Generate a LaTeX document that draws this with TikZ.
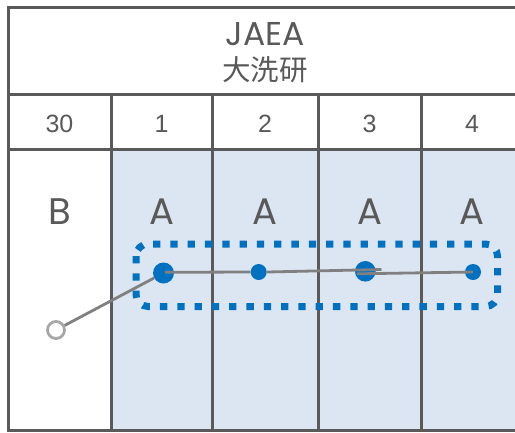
\documentclass[tikz,border=0pt]{standalone}
\usepackage{fontspec}
\setmainfont{Liberation Sans}
\newfontfamily\geo{Poppins}
\newfontfamily\cjk{Noto Sans CJK JP}
\definecolor{gridc}{HTML}{5A5A5A}
\definecolor{fillb}{HTML}{DCE6F2}
\definecolor{dotb}{HTML}{0070C0}
\definecolor{linec}{HTML}{808080}
\definecolor{openc}{HTML}{A6A6A6}
\definecolor{txtc}{HTML}{595959}
\tikzset{
  gridline/.style={draw=gridc, line width=3pt},
  numtxt/.style={text=txtc, font=\fontsize{25}{27}\selectfont, inner sep=0pt},
  lettxt/.style={text=txtc, font=\geo\fontsize{37}{39}\selectfont, inner sep=0pt},
  titletxt/.style={text=txtc, inner sep=0pt},
  bigdot/.style={circle, fill=dotb, inner sep=0pt, minimum size=#1},
  opendot/.style={circle, draw=openc, fill=white, line width=2.8pt, inner sep=0pt, minimum size=17pt},
  conn/.style={draw=linec, line width=2.8pt},
  groupbox/.style={draw=dotb, line width=7pt, dash pattern=on 7.3pt off 10pt, rounded corners=12pt}
}
\begin{document}
\begin{tikzpicture}[x=1pt,y=-1pt]
\useasboundingbox (0,0) rectangle (515,432);
\fill[white] (0,0) rectangle (515,432);
\fill[fillb] (111,149) rectangle (515,430);
% grid
\draw[gridline] (516,7) -- (8,7) -- (8,430) -- (516,430);
\draw[gridline] (8,94) -- (516,94);
\draw[gridline] (8,149) -- (516,149);
\foreach \x in {111,212,318,421} \draw[gridline] (\x,94) -- (\x,430);
% header
\node[titletxt, font=\geo\fontsize{33}{35}\selectfont] (t1) at (265,34) {JAEA};
\node[titletxt, font=\cjk\fontsize{28.5}{30}\selectfont] (t2) at (265,70) {大洗研};
% numbers
\node[numtxt] (n0) at (59.5,124) {30};
\node[numtxt] (n1) at (161.5,124) {1};
\node[numtxt] (n2) at (265,124) {2};
\node[numtxt] (n3) at (369.5,124) {3};
\node[numtxt] (n4) at (472,124) {4};
% letters
\node[lettxt] (l0) at (60,212) {B};
\node[lettxt] (l1) at (162,212) {A};
\node[lettxt] (l2) at (265,212) {A};
\node[lettxt] (l3) at (370,212) {A};
\node[lettxt] (l4) at (472,212) {A};
% group box
\draw[groupbox] (136,244) rectangle (497.5,306.5);
% dots
\node[bigdot=21pt] (d1) at (163.5,273) {};
\node[bigdot=16pt] (d2) at (258.7,272) {};
\node[bigdot=20.6pt] (d3) at (365.3,271.3) {};
\node[bigdot=16pt] (d4) at (473,272) {};
\node[opendot] (o) at (56,330) {};
% connectors
\coordinate (p1) at (165,272.3);
\coordinate (q1) at (381.5,269.5);
\coordinate (q2) at (357,273.8);
\draw[conn] (o) -- (d1);
\draw[conn] (p1) -- (d2.west);
\draw[conn] (d2.east) -- (q1);
\draw[conn] (q2) -- (d4.center);
\end{tikzpicture}
\end{document}
